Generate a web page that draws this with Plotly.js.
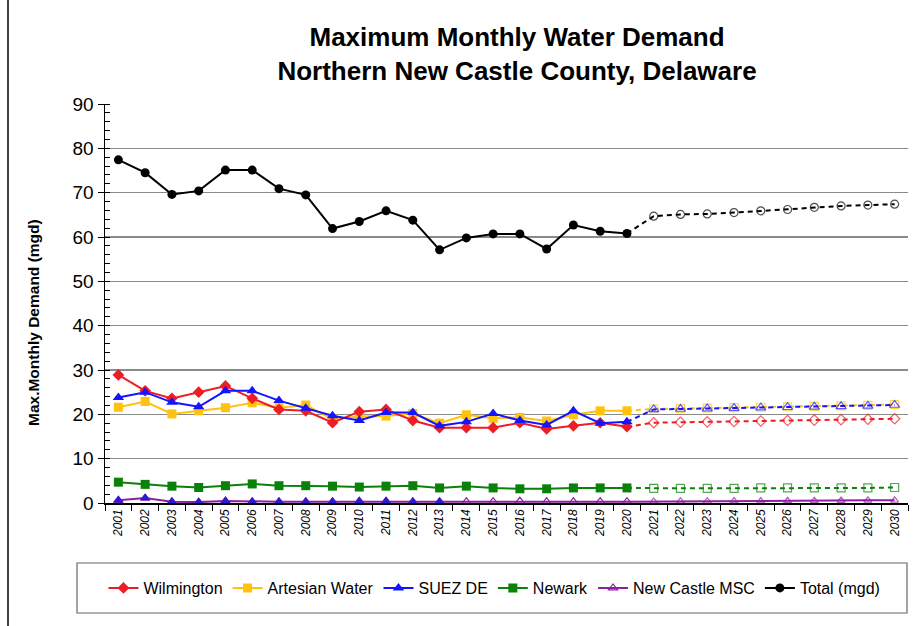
<!DOCTYPE html>
<html>
<head>
<meta charset="utf-8">
<script src="https://cdn.plot.ly/plotly-3.0.1.min.js"></script>
<style>html,body{margin:0;padding:0;background:#fff;}#chart{width:920px;height:626px;}</style>
</head>
<body>
<div id="chart"></div>
<script>
// ---- Data ----
const years = ['2001','2002','2003','2004','2005','2006','2007','2008','2009','2010',
               '2011','2012','2013','2014','2015','2016','2017','2018','2019','2020'];
const projYears = ['2021','2022','2023','2024','2025','2026','2027','2028','2029','2030'];

const wilmington = [28.9,25.3,23.6,25.0,26.4,23.6,21.1,20.8,18.1,20.6,21.1,18.6,17.0,17.0,17.0,18.1,16.7,17.4,18.1,17.2];
const artesian   = [21.6,22.9,20.1,20.8,21.5,22.6,21.5,22.1,18.9,19.5,19.6,20.2,18.0,19.9,19.1,19.3,18.5,19.9,20.8,20.8];
const suez       = [23.8,25.0,22.7,21.7,25.3,25.3,23.1,21.4,19.7,18.6,20.4,20.4,17.4,18.3,20.2,18.6,17.6,20.8,18.0,18.3];
const newark     = [4.7,4.2,3.8,3.5,3.9,4.3,3.9,3.9,3.8,3.6,3.8,3.9,3.4,3.8,3.4,3.2,3.2,3.4,3.4,3.4];
const newCastle  = [0.6,1.1,0.3,0.2,0.45,0.3,0.3,0.3,0.3,0.4,0.4,0.3,0.3,0.3,0.3,0.4,0.3,0.3,0.3,0.3];
const total      = [77.4,74.5,69.6,70.4,75.1,75.1,70.9,69.5,61.9,63.5,65.9,63.8,57.1,59.8,60.7,60.7,57.3,62.7,61.3,60.8];

const wilmingtonProj = [18.1,18.2,18.3,18.4,18.5,18.6,18.7,18.8,18.9,19.0];
const artesianProj   = [21.2,21.3,21.4,21.5,21.6,21.7,21.8,21.9,22.0,22.2];
const suezProj       = [21.1,21.2,21.3,21.4,21.5,21.6,21.7,21.8,21.9,22.1];
const newarkProj     = [3.3,3.3,3.3,3.3,3.4,3.4,3.4,3.4,3.4,3.5];
const newCastleProj  = [0.35,0.4,0.4,0.45,0.45,0.5,0.5,0.55,0.6,0.6];
const totalProj      = [64.7,65.1,65.2,65.5,65.9,66.2,66.7,67.0,67.2,67.4];

const filledMscYears = 13; // New Castle MSC points drawn with filled markers

// ---- Styles ----
const FONT = 'Liberation Sans, Arial, sans-serif';
const series = [
  {name:'Wilmington',      y:wilmington, p:wilmingtonProj, color:'#ee1c25', sym:'diamond',     size:9,  rank:1, order:4, dash:'dash'},
  {name:'Artesian Water',  y:artesian,   p:artesianProj,   color:'#ffc20e', sym:'square',      size:9,  rank:2, order:3, dash:'dash'},
  {name:'SUEZ DE',         y:suez,       p:suezProj,       color:'#1414ff', sym:'triangle-up', size:10, rank:3, order:5, dash:'dash'},
  {name:'Newark',          y:newark,     p:newarkProj,     color:'#0a820a', sym:'square',      size:9,  rank:4, order:1, dash:'dash'},
  {name:'New Castle MSC',  y:newCastle,  p:newCastleProj,  color:'#8e1fa0', sym:'triangle-up-open', size:8, rank:5, order:2, dash:'solid'},
  {name:'Total (mgd)',     y:total,      p:totalProj,      color:'#000000', sym:'circle',      size:9,  rank:6, order:6, dash:'dash'}
];

const projTraces = [];
const actualTraces = [];
series.forEach(s => {
  const openSym = s.sym.endsWith('-open') ? s.sym : s.sym + '-open';
  const last = s.y[s.y.length - 1];
  projTraces.push({
    x: [years[years.length - 1]].concat(projYears),
    y: [last].concat(s.p),
    type: 'scatter', mode: 'lines+markers', showlegend: false, hoverinfo: 'skip',
    line: {color: s.color, width: 2, dash: s.dash === 'dash' ? '5px,4px' : 'solid'},
    marker: {symbol: openSym, size: [0].concat(s.p.map(() => s.size - 1)), color: s.color, line: {width: 1.2, color: s.color}},
    _order: s.order
  });
  actualTraces.push({
    x: years, y: s.y, name: s.name, legendrank: s.rank,
    type: 'scatter', mode: 'lines+markers',
    line: {color: s.color, width: 2},
    marker: {symbol: s.sym, size: s.size, color: s.color, line: {width: s.sym.endsWith('-open') ? 1.2 : 0, color: s.color}},
    _order: s.order
  });
});
projTraces.sort((a, b) => a._order - b._order);
actualTraces.sort((a, b) => a._order - b._order);
const mscExtra = {
  x: years.slice(0, filledMscYears), y: newCastle.slice(0, filledMscYears),
  type: 'scatter', mode: 'markers', showlegend: false, hoverinfo: 'skip',
  marker: {symbol: 'triangle-up', size: 9, color: '#2a1ad8'}
};
const data = [];
projTraces.forEach(t => { delete t._order; data.push(t); });
actualTraces.forEach(t => {
  const isMsc = t.name === 'New Castle MSC';
  delete t._order; data.push(t);
  if (isMsc) data.push(mscExtra);
});

const L = 105, R = 908, T = 104, B = 503; // plot area in px
const px2x = v => (v - L) / (R - L);
const px2y = v => (B - v) / (B - T);

const layout = {
  width: 920, height: 626,
  margin: {l: L, r: 920 - R, t: T, b: 626 - B},
  paper_bgcolor: '#ffffff', plot_bgcolor: '#ffffff',
  font: {family: FONT, color: '#000'},
  title: {
    text: '<b>Maximum Monthly Water Demand<br>Northern New Castle County, Delaware</b>',
    font: {family: FONT, size: 26, color: '#000'},
    xref: 'container', x: 0.562, xanchor: 'center',
    yref: 'container', y: 1 - 46 / 626, yanchor: 'top'
  },
  xaxis: {
    type: 'category', categoryorder: 'array', categoryarray: years.concat(projYears),
    range: [-0.5, 29.5], showline: true, linecolor: '#000', linewidth: 1.5,
    ticks: 'outside', tickson: 'boundaries', ticklen: 6, tickcolor: '#000', tickwidth: 1,
    tickangle: -90, tickfont: {family: FONT, size: 12, style: 'italic', color: '#000'},
    showgrid: false, zeroline: false, fixedrange: true
  },
  yaxis: {
    range: [0, 90], dtick: 10, tick0: 0, showline: true, linecolor: '#000', linewidth: 1.5,
    ticks: 'outside', ticklen: 6, tickcolor: '#000', tickwidth: 1,
    tickfont: {family: FONT, size: 19, color: '#000'},
    showgrid: true, gridcolor: '#8a8a8a', gridwidth: 1.5, zeroline: false,
    minor: {dtick: 2, ticks: 'inside', ticklen: 5, tickcolor: '#000', showgrid: false},
    fixedrange: true
  },
  showlegend: true,
  legend: {
    orientation: 'h', x: 0.485, xanchor: 'center', y: px2y(588), yanchor: 'middle',
    font: {family: FONT, size: 16, color: '#000'}, bgcolor: 'rgba(0,0,0,0)', borderwidth: 0,
    traceorder: 'normal'
  },
  annotations: [{
    text: '<b>Max.Monthly Demand (mgd)</b>', textangle: -90, showarrow: false,
    xref: 'paper', yref: 'paper', x: px2x(33), y: px2y(323), xanchor: 'center', yanchor: 'middle',
    font: {family: FONT, size: 15.5, color: '#000'}
  }],
  shapes: [
    {type: 'rect', xref: 'paper', yref: 'paper', x0: px2x(77), x1: px2x(907), y0: px2y(613), y1: px2y(563),
     line: {color: '#666', width: 1.2}, fillcolor: 'rgba(0,0,0,0)', layer: 'below'},
    {type: 'line', xref: 'paper', yref: 'paper', x0: px2x(8), x1: px2x(8), y0: px2y(0), y1: px2y(626),
     line: {color: '#000', width: 1.5}}
  ]
};

Plotly.newPlot('chart', data, layout, {displayModeBar: false, staticPlot: true});
</script>
</body>
</html>
